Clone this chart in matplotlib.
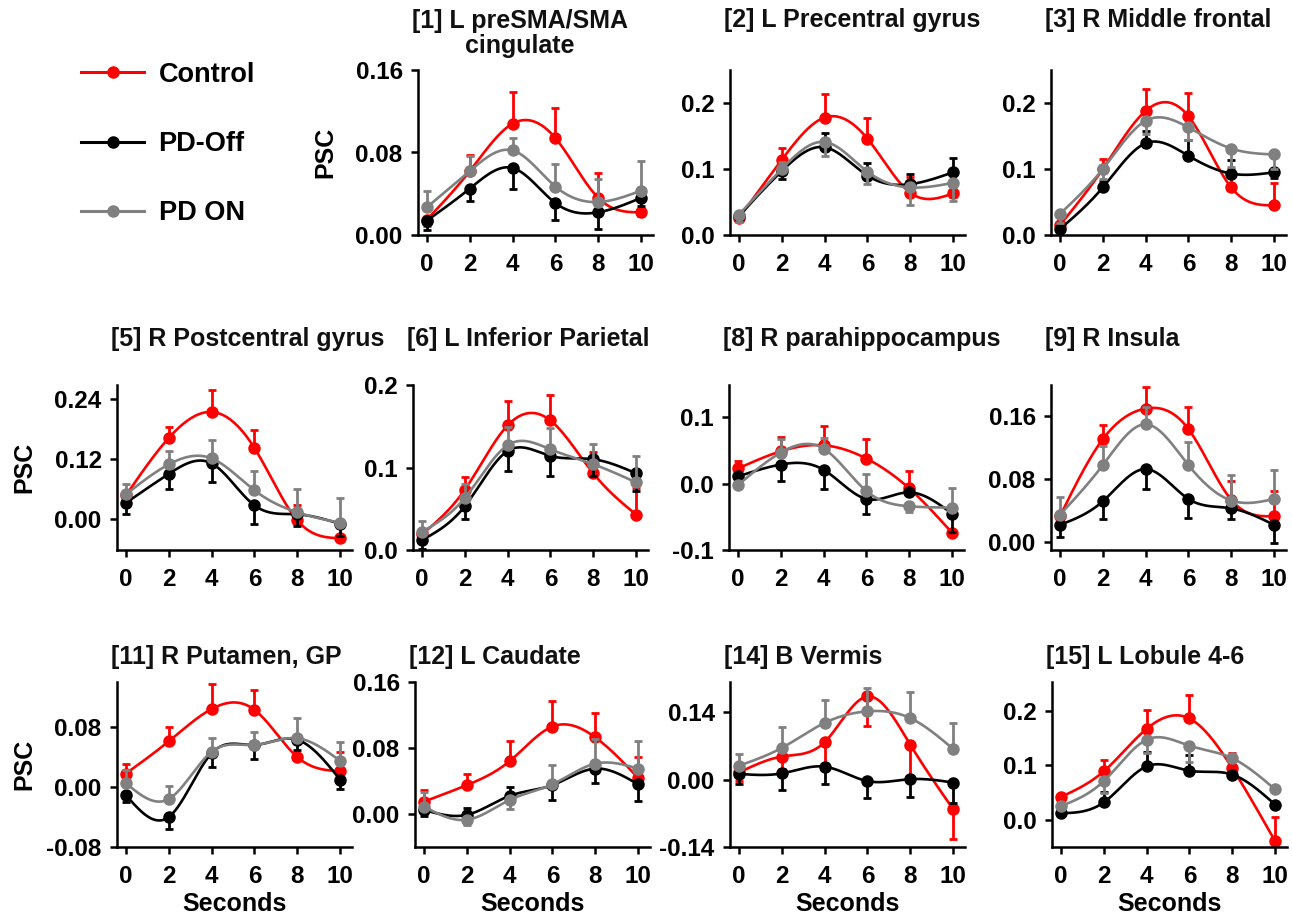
import numpy as np
import matplotlib
matplotlib.use("Agg")
import matplotlib.pyplot as plt
from matplotlib.lines import Line2D

plt.rcParams['font.family'] = ['Liberation Sans', 'DejaVu Sans']
plt.rcParams['font.weight'] = 'bold'
plt.rcParams['axes.labelweight'] = 'bold'

seconds = [0, 2, 4, 6, 8, 10]
groups = ['Control', 'PD-Off', 'PD ON']
colors = ['#ff0000', '#000000', '#808080']

titles = ['[1] L preSMA/SMA\ncingulate', '[2] L Precentral gyrus', '[3] R Middle frontal',
          '[5] R Postcentral gyrus', '[6] L Inferior Parietal', '[8] R parahippocampus', '[9] R Insula',
          '[11] R Putamen, GP', '[12] L Caudate', '[14] B Vermis', '[15] L Lobule 4-6']

# group means per region (PSC)
control = [[0.015, 0.062, 0.108, 0.094, 0.036, 0.022],
           [0.026, 0.114, 0.178, 0.146, 0.064, 0.063],
           [0.015, 0.100, 0.188, 0.180, 0.072, 0.045],
           [0.047, 0.162, 0.214, 0.142, -0.003, -0.039],
           [0.019, 0.073, 0.151, 0.157, 0.093, 0.043],
           [0.023, 0.049, 0.058, 0.038, -0.007, -0.074],
           [0.033, 0.131, 0.170, 0.144, 0.054, 0.033],
           [0.018, 0.061, 0.104, 0.103, 0.040, 0.021],
           [0.015, 0.035, 0.064, 0.106, 0.093, 0.044],
           [0.015, 0.048, 0.078, 0.173, 0.073, -0.061],
           [0.042, 0.089, 0.167, 0.186, 0.095, -0.039]]
pd_off = [[0.014, 0.045, 0.065, 0.031, 0.022, 0.036],
          [0.029, 0.097, 0.133, 0.090, 0.077, 0.095],
          [0.009, 0.072, 0.139, 0.120, 0.093, 0.095],
          [0.032, 0.090, 0.111, 0.027, 0.009, -0.010],
          [0.012, 0.053, 0.120, 0.114, 0.110, 0.093],
          [0.011, 0.029, 0.021, -0.023, -0.013, -0.045],
          [0.022, 0.052, 0.093, 0.055, 0.043, 0.022],
          [-0.011, -0.040, 0.045, 0.056, 0.063, 0.010],
          [0.005, -0.001, 0.022, 0.035, 0.055, 0.036],
          [0.012, 0.013, 0.027, -0.003, 0.001, -0.006],
          [0.012, 0.032, 0.098, 0.090, 0.083, 0.028]]
pd_on = [[0.027, 0.062, 0.082, 0.047, 0.032, 0.043],
         [0.031, 0.100, 0.141, 0.096, 0.072, 0.079],
         [0.032, 0.100, 0.173, 0.163, 0.131, 0.122],
         [0.049, 0.109, 0.121, 0.057, 0.013, -0.008],
         [0.022, 0.063, 0.127, 0.122, 0.104, 0.082],
         [-0.002, 0.047, 0.053, -0.011, -0.034, -0.036],
         [0.035, 0.098, 0.150, 0.098, 0.053, 0.055],
         [0.005, -0.016, 0.047, 0.056, 0.065, 0.035],
         [0.009, -0.007, 0.017, 0.036, 0.061, 0.055],
         [0.029, 0.066, 0.118, 0.142, 0.128, 0.064],
         [0.025, 0.071, 0.147, 0.136, 0.113, 0.056]]

# SEM, signed: + drawn upward, - drawn downward
control_err = [[-0.006, 0.016, 0.031, 0.029, 0.024, -0.004],
               [-0.005, 0.018, 0.035, 0.032, 0.024, -0.005],
               [0.005, 0.015, 0.033, 0.035, 0.028, 0.034],
               [0.004, 0.022, 0.044, 0.035, 0.030, -0.003],
               [0.004, 0.016, 0.030, 0.031, 0.026, 0.032],
               [0.011, 0.021, 0.029, 0.029, 0.026, -0.005],
               [0.004, 0.018, 0.027, 0.028, 0.024, 0.032],
               [0.013, 0.019, 0.033, 0.027, -0.004, 0.026],
               [0.014, 0.013, 0.025, 0.031, 0.029, 0.025],
               [-0.017, -0.025, -0.052, -0.061, -0.072, -0.062],
               [0.005, 0.020, 0.035, 0.044, 0.028, 0.045]]
pd_off_err = [[-0.009, -0.012, -0.020, -0.016, -0.016, -0.008],
              [-0.004, -0.012, 0.021, 0.019, 0.015, 0.022],
              [-0.004, 0.010, 0.018, 0.024, 0.020, -0.008],
              [-0.023, -0.031, -0.037, -0.037, -0.024, -0.025],
              [-0.011, -0.015, -0.024, -0.024, -0.020, -0.021],
              [-0.005, -0.025, -0.029, -0.022, 0.005, -0.028],
              [-0.015, -0.023, -0.025, -0.024, -0.014, -0.023],
              [-0.009, -0.016, -0.018, -0.018, -0.014, -0.013],
              [-0.007, 0.008, 0.011, -0.018, -0.018, -0.020],
              [-0.020, -0.034, -0.036, -0.035, -0.038, -0.043],
              [-0.004, 0.019, 0.027, 0.029, -0.005, -0.006]]
pd_on_err = [[0.016, 0.015, 0.012, 0.022, 0.022, 0.029],
             [-0.011, 0.010, -0.022, -0.019, -0.026, -0.028],
             [-0.014, -0.015, -0.020, -0.019, -0.028, -0.022],
             [0.020, 0.027, 0.037, 0.039, 0.046, 0.050],
             [0.013, 0.017, 0.022, 0.026, 0.025, 0.032],
             [0.004, 0.020, 0.016, 0.026, -0.008, 0.029],
             [0.022, 0.024, 0.022, 0.030, 0.032, 0.037],
             [0.018, 0.017, 0.018, 0.018, 0.027, 0.025],
             [0.018, -0.006, -0.011, 0.024, 0.030, 0.034],
             [0.024, 0.043, 0.048, 0.048, 0.055, 0.053],
             [-0.005, -0.021, -0.025, -0.029, -0.006, -0.005]]

# layout: left px, top px, ylim, yticks, decimals
panels = [(418, 70, (0, 0.16), [0, 0.08, 0.16], 2),
          (730, 70, (0, 0.25), [0, 0.1, 0.2], 1),
          (1051, 70, (0, 0.25), [0, 0.1, 0.2], 1),
          (117, 385, (-0.0625, 0.268), [0, 0.12, 0.24], 2),
          (413, 385, (0, 0.2), [0, 0.1, 0.2], 1),
          (729, 385, (-0.1, 0.149), [-0.1, 0, 0.1], 1),
          (1051, 385, (-0.01, 0.2), [0, 0.08, 0.16], 2),
          (117, 682, (-0.08, 0.14), [-0.08, 0, 0.08], 2),
          (415, 682, (-0.04, 0.16), [0, 0.08, 0.16], 2),
          (730, 682, (-0.14, 0.203), [-0.14, 0, 0.14], 2),
          (1052, 682, (-0.05, 0.253), [0, 0.1, 0.2], 1)]


def natural_spline(x, y, n=300):
    x = np.asarray(x, float)
    y = np.asarray(y, float)
    k = len(x)
    h = np.diff(x)
    A = np.zeros((k, k))
    b = np.zeros(k)
    A[0, 0] = A[-1, -1] = 1
    for i in range(1, k - 1):
        A[i, i - 1] = h[i - 1]
        A[i, i] = 2 * (h[i - 1] + h[i])
        A[i, i + 1] = h[i]
        b[i] = 3 * ((y[i + 1] - y[i]) / h[i] - (y[i] - y[i - 1]) / h[i - 1])
    c = np.linalg.solve(A, b)
    bc = (y[1:] - y[:-1]) / h - h * (2 * c[:-1] + c[1:]) / 3
    d = (c[1:] - c[:-1]) / (3 * h)
    xs = np.linspace(x[0], x[-1], n)
    idx = np.clip(np.searchsorted(x, xs, side='right') - 1, 0, k - 2)
    dx = xs - x[idx]
    return xs, y[idx] + bc[idx] * dx + c[idx] * dx ** 2 + d[idx] * dx ** 3


W, H = 1292, 921
fig = plt.figure(figsize=(W / 100, H / 100), dpi=100)
aw, ah = 235, 165

for p, (left, top, ylim, yticks, dec) in enumerate(panels):
    ax = fig.add_axes([left / W, 1 - (top + ah) / H, aw / W, ah / H])
    series = [(control[p], control_err[p]), (pd_off[p], pd_off_err[p]), (pd_on[p], pd_on_err[p])]
    for (m, e), col in zip(series, colors):
        e = np.array(e)
        lo = np.where(e < 0, -e, 0)
        up = np.where(e > 0, e, 0)
        ax.errorbar(seconds, m, yerr=[lo, up], fmt='none', ecolor=col, elinewidth=2,
                    capsize=3.2, capthick=2)
        xs, ys = natural_spline(seconds, m)
        ax.plot(xs, ys, color=col, lw=1.9)
        ax.plot(seconds, m, 'o', color=col, ms=8)
    ax.set_xlim(-0.42, 10.56)
    ax.set_ylim(*ylim)
    ax.set_xticks(seconds)
    ax.set_yticks(yticks)
    ax.set_yticklabels([f'{v:.{dec}f}' for v in yticks])
    for s in ['top', 'right']:
        ax.spines[s].set_visible(False)
    for s in ['left', 'bottom']:
        ax.spines[s].set_linewidth(1.8)
    ax.tick_params(width=1.8, length=5, labelsize=17.5, pad=8)
    ax.tick_params(axis='y', pad=6)
    if p == 0:
        ax.text(-0.025, 1.22, titles[p], transform=ax.transAxes, ha='left', va='center',
                multialignment='center', fontsize=18, color='#111111', linespacing=1.05)
    else:
        off = {70: 1.30, 385: 1.28, 682: 1.15}[top]
        ax.text(-0.025, off, titles[p], transform=ax.transAxes, ha='left', va='center',
                fontsize=18, color='#111111')
    if p in (0, 3, 7):
        ax.set_ylabel('PSC', fontsize=18)
        ax.yaxis.set_label_coords(-0.345, 0.5)
    if p >= 7:
        ax.set_xlabel('Seconds', fontsize=18)
        ax.xaxis.set_label_coords(0.5, -0.27)

handles = [Line2D([], [], color=c, lw=2.2, marker='o', ms=8) for c in colors]
fig.legend(handles, groups, loc='center left', bbox_to_anchor=(0.063, 1 - 144 / H),
           frameon=False, fontsize=19.5, labelspacing=1.6, handlelength=2.3,
           handletextpad=0.55, borderpad=0, borderaxespad=0)

fig.savefig('out.png', dpi=100)
